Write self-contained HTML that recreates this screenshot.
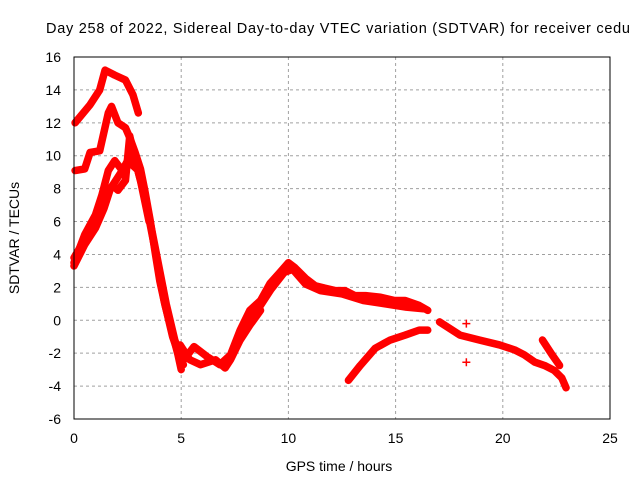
<!DOCTYPE html>
<html><head><meta charset="utf-8"><style>
body{margin:0;background:#fff}
svg{display:block;font-family:"Liberation Sans",sans-serif}
</style></head><body>
<svg id="chart" width="640" height="480" viewBox="0 0 640 480">
<text x="46" y="33" font-size="14.5" textLength="584" lengthAdjust="spacing" fill="#000">Day 258 of 2022, Sidereal Day-to-day VTEC variation (SDTVAR) for receiver cedu</text>
<g id="grid"></g>
<g id="ticks"></g>
<g id="series"></g>
<rect x="74" y="57" width="536" height="362" fill="none" stroke="#000" stroke-width="1"/>
<text x="339" y="471" font-size="14" text-anchor="middle">GPS time / hours</text>
<text transform="translate(19,238) rotate(-90)" font-size="14" text-anchor="middle">SDTVAR / TECUs</text>
</svg>
<script>
const xTicks=[0,5,10,15,20,25];
const yTicks=[-6,-4,-2,0,2,4,6,8,10,12,14,16];
const trackA=[[0.05,12.0],[0.75,13.1],[1.2,14.0],[1.45,15.2],[1.9,14.9],[2.4,14.6],[2.75,13.7],[3.0,12.6]];
const trackB=[[0.05,9.1],[0.5,9.2],[0.75,10.2],[1.2,10.3],[1.6,12.6],[1.75,13.0],[2.05,12.0],[2.4,11.7],[2.6,11.1],[2.85,10.2],[3.1,9.2],[3.3,7.9],[3.55,6.1],[3.8,4.0],[4.0,2.4],[4.25,0.9],[4.55,-0.6],[4.85,-2.1],[5.0,-3.0]];
const trackC=[[0.0,3.5],[0.5,5.2],[1.0,6.4],[1.3,7.6],[1.6,9.1],[1.9,9.7],[2.25,9.1],[2.5,9.7],[2.75,9.4],[3.0,9.1],[3.3,7.5],[3.6,5.5],[3.9,3.5],[4.2,1.2],[4.6,-1.0],[5.0,-2.5]];
const trackD=[[0.0,3.8],[1.0,6.0],[1.45,7.6],[1.8,8.2],[2.05,7.9],[2.4,8.5],[2.6,11.2],[2.8,10.0],[3.1,8.5],[3.5,6.0]];
const trackJ=[[0.0,3.3],[0.5,4.6],[1.0,5.6],[1.4,6.8],[1.7,8.0],[2.2,9.0]];
const trackK=[[3.0,9.0],[3.4,7.0],[3.7,5.0],[4.0,3.0],[4.3,1.0],[4.7,-1.2],[5.1,-2.7]];
const trackE=[[4.95,-1.5],[5.4,-2.4],[5.9,-2.7],[6.6,-2.4],[7.05,-2.9],[7.3,-2.4],[7.75,-1.2],[8.2,-0.3],[8.7,0.6]];
const trackF=[[5.0,-2.6],[5.6,-1.6],[6.2,-2.2],[6.8,-2.7],[7.3,-2.1],[7.75,-0.6],[8.2,0.6],[8.7,1.2],[9.15,2.25],[9.6,2.9],[10.0,3.5],[10.3,3.2],[10.8,2.55],[11.25,2.1],[11.7,1.95],[12.2,1.8],[12.65,1.8],[13.1,1.5],[13.6,1.5],[14.3,1.4],[14.95,1.2],[15.45,1.2],[16.1,0.9],[16.5,0.6]];
const trackL=[[7.5,-1.8],[8.0,-0.4],[8.6,0.7],[9.2,1.9],[9.8,2.9],[10.2,3.1],[10.8,2.2],[11.5,1.8],[12.5,1.6],[13.5,1.2],[14.5,1.0],[15.5,0.8],[16.3,0.7]];
const trackG=[[12.8,-3.65],[13.35,-2.75],[14.05,-1.7],[14.75,-1.2],[15.45,-0.9],[16.1,-0.6],[16.5,-0.6]];
const trackH=[[17.05,-0.1],[18.0,-0.9],[18.9,-1.2],[19.85,-1.5],[20.55,-1.8],[21.0,-2.1],[21.5,-2.55],[21.95,-2.75],[22.4,-3.05],[22.75,-3.5],[22.95,-4.1]];
const trackI=[[21.85,-1.2],[22.3,-2.1],[22.65,-2.75]];
const outliers=[[18.3,-2.55],[18.3,-0.2]];
const tracks=[trackA,trackB,trackC,trackD,trackJ,trackK,trackE,trackF,trackL,trackG,trackH,trackI];

const X0=74,X1=610,Y0=419,Y1=57,XMIN=0,XMAX=25,YMIN=-6,YMAX=16;
const xs=v=>X0+(v-XMIN)/(XMAX-XMIN)*(X1-X0);
const ys=v=>Y0-(v-YMIN)/(YMAX-YMIN)*(Y0-Y1);
const NS='http://www.w3.org/2000/svg';
const grid=document.getElementById('grid'),ticks=document.getElementById('ticks'),series=document.getElementById('series');
function mk(t,a,p){const e=document.createElementNS(NS,t);for(const k in a)e.setAttribute(k,a[k]);p.appendChild(e);return e;}
xTicks.forEach(v=>{
  const x=xs(v);
  if(v>XMIN&&v<XMAX){const g=mk('line',{x1:x,x2:x,y1:Y1,y2:Y0,stroke:'#a0a0a0','stroke-dasharray':'3,3'},grid);
  
  }
  const t=mk('text',{x:x,y:Y0+24,'font-size':14,'text-anchor':'middle'},ticks);t.textContent=v;
  
  
});
yTicks.forEach(v=>{
  const y=ys(v);
  if(v>YMIN&&v<YMAX){const g=mk('line',{x1:X0,x2:X1,y1:y,y2:y,stroke:'#a0a0a0','stroke-dasharray':'3,3'},grid);
  
  }
  const t=mk('text',{x:X0-13,y:y+5,'font-size':14,'text-anchor':'end'},ticks);t.textContent=v;
  
  
});
tracks.forEach(tr=>{
  const p=mk('polyline',{points:tr.map(d=>xs(d[0])+','+ys(d[1])).join(' '),fill:'none',stroke:'#ff0000','stroke-width':7.5,'stroke-linejoin':'round','stroke-linecap':'round'},series);
  
  
});
outliers.forEach(d=>{
  const x=xs(d[0]),y=ys(d[1]);
  const m=mk('path',{d:`M${x-4},${y}H${x+4}M${x},${y-4}V${y+4}`,stroke:'#ff0000','stroke-width':1.5},series);
  
  
});
</script>
</body></html>
